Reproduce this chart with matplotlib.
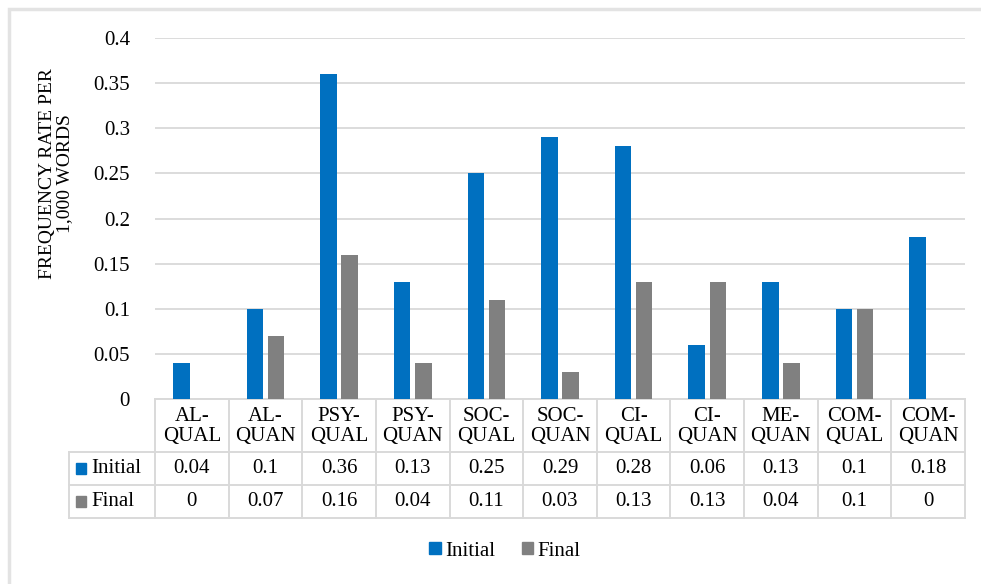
import numpy as np
import matplotlib.pyplot as plt
from matplotlib.patches import Patch, Rectangle

plt.rcParams['font.family'] = 'serif'
plt.rcParams['font.serif'] = ['Liberation Serif', 'Times New Roman', 'DejaVu Serif']

categories = ['AL-\nQUAL', 'AL-\nQUAN', 'PSY-\nQUAL', 'PSY-\nQUAN', 'SOC-\nQUAL', 'SOC-\nQUAN',
              'CI-\nQUAL', 'CI-\nQUAN', 'ME-\nQUAN', 'COM-\nQUAL', 'COM-\nQUAN']
initial = [0.04, 0.1, 0.36, 0.13, 0.25, 0.29, 0.28, 0.06, 0.13, 0.1, 0.18]
final = [0, 0.07, 0.16, 0.04, 0.11, 0.03, 0.13, 0.13, 0.04, 0.1, 0]
series_names = ['Initial', 'Final']
colors = ['#0070C0', '#808080']
yticks = [0, 0.05, 0.1, 0.15, 0.2, 0.25, 0.3, 0.35, 0.4]

W, H = 981, 584
fig = plt.figure(figsize=(W / 100, H / 100), dpi=100)

# plot area in pixels
left, right, top, bottom = 155, 965, 38, 399
ax = fig.add_axes([left / W, 1 - bottom / H, (right - left) / W, (bottom - top) / H])

x = np.arange(len(categories))
bw = 0.224
ax.bar(x - 0.143, initial, bw, color=colors[0], zorder=3)
ax.bar(x + 0.143, final, bw, color=colors[1], zorder=3)

ax.set_xlim(-0.5, len(categories) - 0.5)
ax.set_ylim(0, 0.4)
ax.set_yticks(yticks)
ax.set_yticklabels([f'{v:g}' for v in yticks], fontsize=15)
ax.tick_params(axis='y', length=0, pad=18)
ax.set_xticks([])
ax.yaxis.grid(True, color='#D9D9D9', linewidth=1.3)
ax.set_axisbelow(True)
for s in ax.spines.values():
    s.set_visible(False)

ax.text((56 - left) / (right - left), (bottom - 174) / (bottom - top), 'FREQUENCY RATE PER\n1,000 WORDS',
        transform=ax.transAxes, rotation=90, ha='center', va='center', fontsize=14, linespacing=1.05)

# data table under the axis
tr = ax.get_xaxis_transform()
def yax(py):
    return (bottom - py) / (bottom - top)

row_y = [399, 452, 485, 518]
px_per_cat = (right - left) / len(categories)
x_lab_left = -0.5 + (69 - left) / px_per_cat
lc = '#D9D9D9'
lw = 1.4

# horizontal lines
ax.plot([-0.5, len(categories) - 0.5], [yax(row_y[0])] * 2, transform=tr, color=lc, lw=lw, clip_on=False)
for py in row_y[1:]:
    ax.plot([x_lab_left, len(categories) - 0.5], [yax(py)] * 2, transform=tr, color=lc, lw=lw, clip_on=False)
# vertical lines
for i in range(len(categories) + 1):
    ax.plot([i - 0.5] * 2, [yax(row_y[0]), yax(row_y[3])], transform=tr, color=lc, lw=lw, clip_on=False)
ax.plot([x_lab_left] * 2, [yax(row_y[1]), yax(row_y[3])], transform=tr, color=lc, lw=lw, clip_on=False)

for i, c in enumerate(categories):
    ax.text(i, yax((row_y[0] + row_y[1]) / 2 + 1), c, transform=tr, ha='center', va='center',
            fontsize=15, linespacing=1.03)
for r, vals in enumerate([initial, final]):
    yc = yax((row_y[r + 1] + row_y[r + 2]) / 2)
    for i, v in enumerate(vals):
        ax.text(i, yc, f'{v:g}', transform=tr, ha='center', va='center', fontsize=15)
    # row label with colour key
    kx = x_lab_left + 7 / px_per_cat
    ax.add_patch(Rectangle((kx, yc - 5.5 / (bottom - top)), 10 / px_per_cat, 11 / (bottom - top),
                           transform=tr, color=colors[r], clip_on=False))
    ax.text(kx + 15 / px_per_cat, yc, series_names[r], transform=tr, ha='left', va='center', fontsize=15)

# legend
handles = [Patch(color=c, label=n) for c, n in zip(colors, series_names)]
fig.legend(handles=handles, loc='center', bbox_to_anchor=(505 / W, 1 - 551 / H), ncol=2,
           frameon=False, fontsize=15, handlelength=0.55, handleheight=0.55, handletextpad=0.2,
           columnspacing=1.3)

# chart border
fig.patches.append(Rectangle((9 / W, -0.1), 1.2, 1 - 9 / H + 0.1, transform=fig.transFigure,
                             fill=False, edgecolor='#E3E3E3', linewidth=2.5))

fig.savefig('out.png', dpi=100)
